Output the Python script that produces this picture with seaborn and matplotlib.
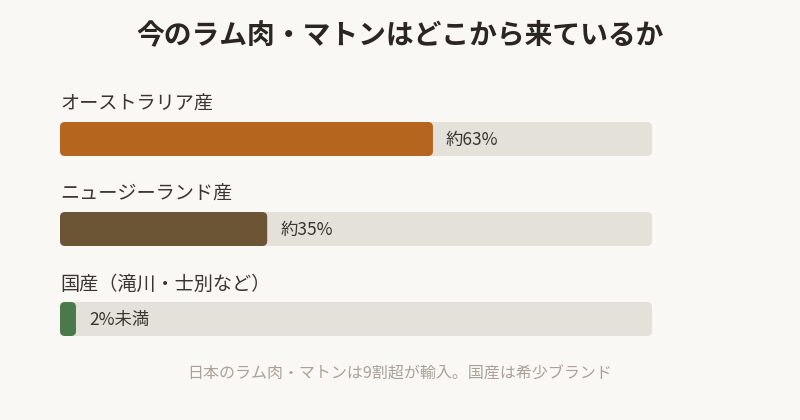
import matplotlib
matplotlib.use("Agg")
import matplotlib.pyplot as plt
from matplotlib.patches import FancyBboxPatch
import seaborn as sns
import pandas as pd

categories = ["オーストラリア産", "ニュージーランド産", "国産（滝川・士別など）"]
values = [63, 35, 2.7]
value_labels = ["約63%", "約35%", "2%未満"]
bar_colors = ["#B5651D", "#6B5535", "#4A7A4A"]
title = "今のラム肉・マトンはどこから来ているか"
note = "日本のラム肉・マトンは9割超が輸入。国産は希少ブランド"

sns.set_theme(style="white")
plt.rcParams["font.family"] = ["Noto Sans CJK JP", "DejaVu Sans"]

bg = "#FAF8F4"
track = "#E4E0DA"
text_color = "#3A3530"

df = pd.DataFrame({"cat": categories, "value": values, "full": [100] * len(categories)})

fig = plt.figure(figsize=(8, 4.2), dpi=100, facecolor=bg)
ax = fig.add_axes([60 / 800, 56 / 420, 592 / 800, 270 / 420])
ax.set_facecolor(bg)

bar_h = 34 / 90
sns.barplot(data=df, x="full", y="cat", color=track, width=bar_h, ax=ax,
            orient="h", saturation=1)
sns.barplot(data=df, x="value", y="cat", hue="cat", palette=bar_colors,
            width=bar_h, ax=ax, orient="h", legend=False, dodge=False, saturation=1)

ax.set_xlim(0, 100)
ax.set_ylim(2.5, -0.5)

# swap square patches for rounded ones
px_x = 592 / 100
px_y = 90
r = 5 / px_x
aspect = px_x / px_y
for p in list(ax.patches):
    x, y, w, h = p.get_x(), p.get_y(), p.get_width(), p.get_height()
    fb = FancyBboxPatch((x, y), w, h,
                        boxstyle=f"round,pad=0,rounding_size={r}",
                        mutation_aspect=aspect,
                        facecolor=p.get_facecolor(), edgecolor="none", zorder=p.get_zorder())
    p.remove()
    ax.add_patch(fb)

for i, (cat, v, lab) in enumerate(zip(categories, values, value_labels)):
    ax.text(0, i - 0.39, cat, fontsize=13.8, color=text_color, va="center", ha="left")
    ax.text(v + 13 / px_x, i + 0.01, lab, fontsize=12.5, color=text_color, va="center", ha="left")

ax.set_xlabel("")
ax.set_ylabel("")
ax.set_xticks([])
ax.set_yticks([])
sns.despine(ax=ax, left=True, bottom=True)

fig.text(0.5, 1 - 35 / 420, title, ha="center", va="center", fontsize=20,
         fontweight="bold", color="#2B2622")
fig.text(0.5, 1 - 374 / 420, note, ha="center", va="center", fontsize=11.5, color="#A8A29A")

fig.savefig("out.png", dpi=100, facecolor=bg)
